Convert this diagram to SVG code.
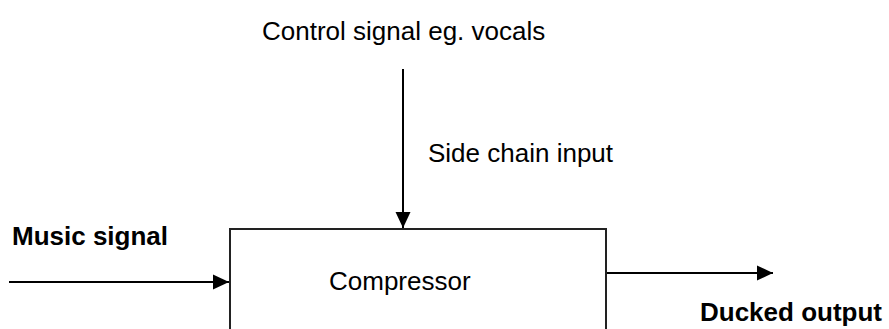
<svg xmlns="http://www.w3.org/2000/svg" width="889" height="329" viewBox="0 0 889 329">
<style>
text{font-family:"Liberation Sans",Arial,sans-serif;font-size:26px;fill:#000}
.b{font-weight:bold}
.ln{stroke:#000;stroke-width:2;fill:none}
</style>
<defs>
<marker id="ah" markerWidth="16" markerHeight="16" viewBox="0 0 16 16" refX="16" refY="8" orient="auto" markerUnits="userSpaceOnUse">
<path d="M0,0.5 L16,8 L0,15.5 Z" fill="#000"/>
</marker>
</defs>
<rect width="889" height="329" fill="#fff"/>
<g id="compressor">
<rect x="230" y="229" width="376" height="130" fill="#fff" stroke="#222" stroke-width="2"/>
<text x="329" y="290">Compressor</text>
</g>
<g id="labels">
<text x="262" y="40">Control signal eg. vocals</text>
<text x="428" y="162">Side chain input</text>
<text class="b" x="12" y="245">Music signal</text>
<text class="b" x="700" y="321">Ducked output</text>
</g>
<g id="connectors">
<line class="ln" x1="9" y1="282" x2="229" y2="282" marker-end="url(#ah)"/>
<line class="ln" x1="403" y1="69" x2="403" y2="228" marker-end="url(#ah)"/>
<line class="ln" x1="607" y1="273" x2="773" y2="273" marker-end="url(#ah)"/>
</g>
</svg>
